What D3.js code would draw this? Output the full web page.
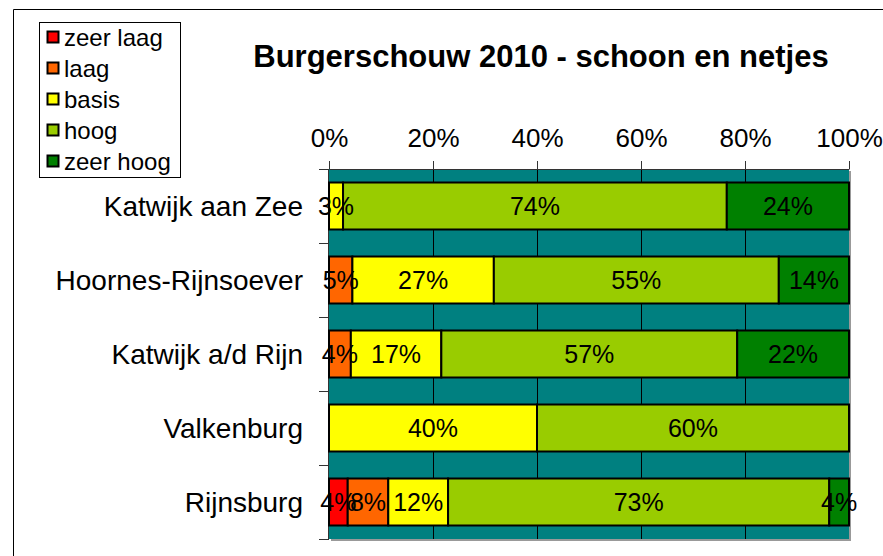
<!DOCTYPE html>
<html lang="nl">
<head>
  <meta charset="UTF-8" />
  <title>Burgerschouw 2010 - schoon en netjes</title>
  <style>
    body {
      margin: 0;
      padding: 0;
      background: #ffffff;
      font-family: "Liberation Sans", Arial, sans-serif;
    }
    svg {
      display: block;
    }
  </style>
</head>
<body>
  <svg id="chart" width="883" height="556"></svg>

  <script src="https://d3js.org/d3.v7.min.js"></script>
  <script>
    // data (percentages per location)
    const categories = ["Katwijk aan Zee", "Hoornes-Rijnsoever", "Katwijk a/d Rijn", "Valkenburg", "Rijnsburg"];
    const seriesNames = ["zeer laag", "laag", "basis", "hoog", "zeer hoog"];
    const zeerLaag = [0, 0, 0, 0, 3.6];
    const laag = [0, 4.5, 4.2, 0, 7.8];
    const basis = [2.7, 27.2, 17.4, 40, 11.5];
    const hoog = [73.8, 54.8, 56.9, 60, 73.3];
    const zeerHoog = [23.5, 13.5, 21.5, 0, 3.8];
    const colors = ["#ff0000", "#ff6600", "#ffff00", "#99cc00", "#008000"];
    const ticks = [0, 0.2, 0.4, 0.6, 0.8, 1];

    const seriesValues = [zeerLaag, laag, basis, hoog, zeerHoog];
    const rows = categories.map((c, i) => {
      const row = { name: c };
      seriesNames.forEach((s, j) => { row[s] = seriesValues[j][i]; });
      return row;
    });

    const svg = d3.select("#chart");
    const plot = { left: 329, right: 849, top: 169, bottom: 539 };

    const x = d3.scaleLinear().domain([0, 1]).range([plot.left, plot.right]);
    const y = d3.scaleBand()
      .domain(categories)
      .range([plot.top, plot.bottom])
      .paddingInner(0.365)
      .paddingOuter(0.1825);
    const color = d3.scaleOrdinal().domain(seriesNames).range(colors);

    const stacked = d3.stack()
      .keys(seriesNames)
      .offset(d3.stackOffsetExpand)(rows);

    // outer chart border
    svg.append("path")
      .attr("d", "M13.5,556 L13.5,9.5 L883,9.5")
      .attr("fill", "none")
      .attr("stroke", "#000")
      .attr("stroke-width", 1);

    // title
    svg.append("text")
      .attr("x", 541)
      .attr("y", 67)
      .attr("text-anchor", "middle")
      .attr("font-size", "31px")
      .attr("font-weight", "bold")
      .text("Burgerschouw 2010 - schoon en netjes");

    // plot area shadow + background
    svg.append("rect")
      .attr("x", plot.left + 2)
      .attr("y", plot.top + 2)
      .attr("width", plot.right - plot.left)
      .attr("height", plot.bottom - plot.top)
      .attr("fill", "#999");
    svg.append("rect")
      .attr("x", plot.left)
      .attr("y", plot.top)
      .attr("width", plot.right - plot.left)
      .attr("height", plot.bottom - plot.top)
      .attr("fill", "#008080");

    // gridlines
    svg.append("g")
      .selectAll("line")
      .data(ticks.slice(1, -1))
      .join("line")
      .attr("x1", d => Math.round(x(d)) + 0.5)
      .attr("x2", d => Math.round(x(d)) + 0.5)
      .attr("y1", plot.top)
      .attr("y2", plot.bottom)
      .attr("stroke", "#000")
      .attr("stroke-width", 1);

    // top axis
    const xAxis = d3.axisTop(x)
      .tickValues(ticks)
      .tickFormat(d3.format(".0%"))
      .tickSize(8)
      .tickPadding(14)
      .tickSizeOuter(0);
    const gx = svg.append("g")
      .attr("transform", `translate(0,${plot.top})`)
      .call(xAxis);
    gx.select(".domain").attr("stroke", "#333");
    gx.selectAll(".tick line").attr("stroke", "#333");
    gx.selectAll(".tick text")
      .attr("font-family", "'Liberation Sans', Arial, sans-serif")
      .attr("font-size", "26px")
      .attr("fill", "#000");

    // left axis: line, ticks between categories, labels
    const step = y.step();
    const firstEdge = y(categories[0]) - step * y.paddingInner() / 2;
    const edges = d3.range(categories.length + 1).map(i => firstEdge + i * step);
    svg.append("line")
      .attr("x1", plot.left - 0.5)
      .attr("x2", plot.left - 0.5)
      .attr("y1", plot.top)
      .attr("y2", plot.bottom)
      .attr("stroke", "#333");
    svg.append("g")
      .selectAll("line")
      .data(edges)
      .join("line")
      .attr("x1", plot.left - 10)
      .attr("x2", plot.left)
      .attr("y1", d => Math.round(d) + 0.5)
      .attr("y2", d => Math.round(d) + 0.5)
      .attr("stroke", "#333");

    svg.append("g")
      .selectAll("text")
      .data(categories)
      .join("text")
      .attr("x", 303)
      .attr("y", d => y(d) + y.bandwidth() / 2)
      .attr("dy", "0.36em")
      .attr("text-anchor", "end")
      .attr("font-size", "28px")
      .text(d => d);

    // bars
    const layers = svg.append("g")
      .selectAll("g")
      .data(stacked)
      .join("g")
      .attr("fill", d => color(d.key));

    layers.selectAll("rect")
      .data(d => d.filter(s => s[1] - s[0] > 0))
      .join("rect")
      .attr("x", d => x(d[0]))
      .attr("y", d => y(d.data.name))
      .attr("width", d => x(d[1]) - x(d[0]))
      .attr("height", y.bandwidth())
      .attr("stroke", "#000")
      .attr("stroke-width", 2);

    // value labels
    const labels = svg.append("g");
    stacked.forEach(layer => {
      labels.selectAll(null)
        .data(layer.filter(s => s.data[layer.key] > 0))
        .join("text")
        .attr("x", d => x((d[0] + d[1]) / 2))
        .attr("y", d => y(d.data.name) + y.bandwidth() / 2)
        .attr("dy", "0.36em")
        .attr("text-anchor", "middle")
        .attr("font-size", "25px")
        .text(d => Math.round(d.data[layer.key]) + "%");
    });

    // legend
    const legend = svg.append("g");
    legend.append("rect")
      .attr("x", 39.5)
      .attr("y", 22.5)
      .attr("width", 141)
      .attr("height", 155)
      .attr("fill", "#fff")
      .attr("stroke", "#000");
    const item = legend.selectAll("g")
      .data(seriesNames)
      .join("g")
      .attr("transform", (d, i) => `translate(47,${37 + i * 31})`);
    item.append("rect")
      .attr("x", 0.5)
      .attr("y", -5.5)
      .attr("width", 11)
      .attr("height", 11)
      .attr("fill", d => color(d))
      .attr("stroke", "#000")
      .attr("stroke-width", 2);
    item.append("text")
      .attr("x", 17)
      .attr("dy", "0.36em")
      .attr("font-size", "24px")
      .text(d => d);
  </script>
</body>
</html>
